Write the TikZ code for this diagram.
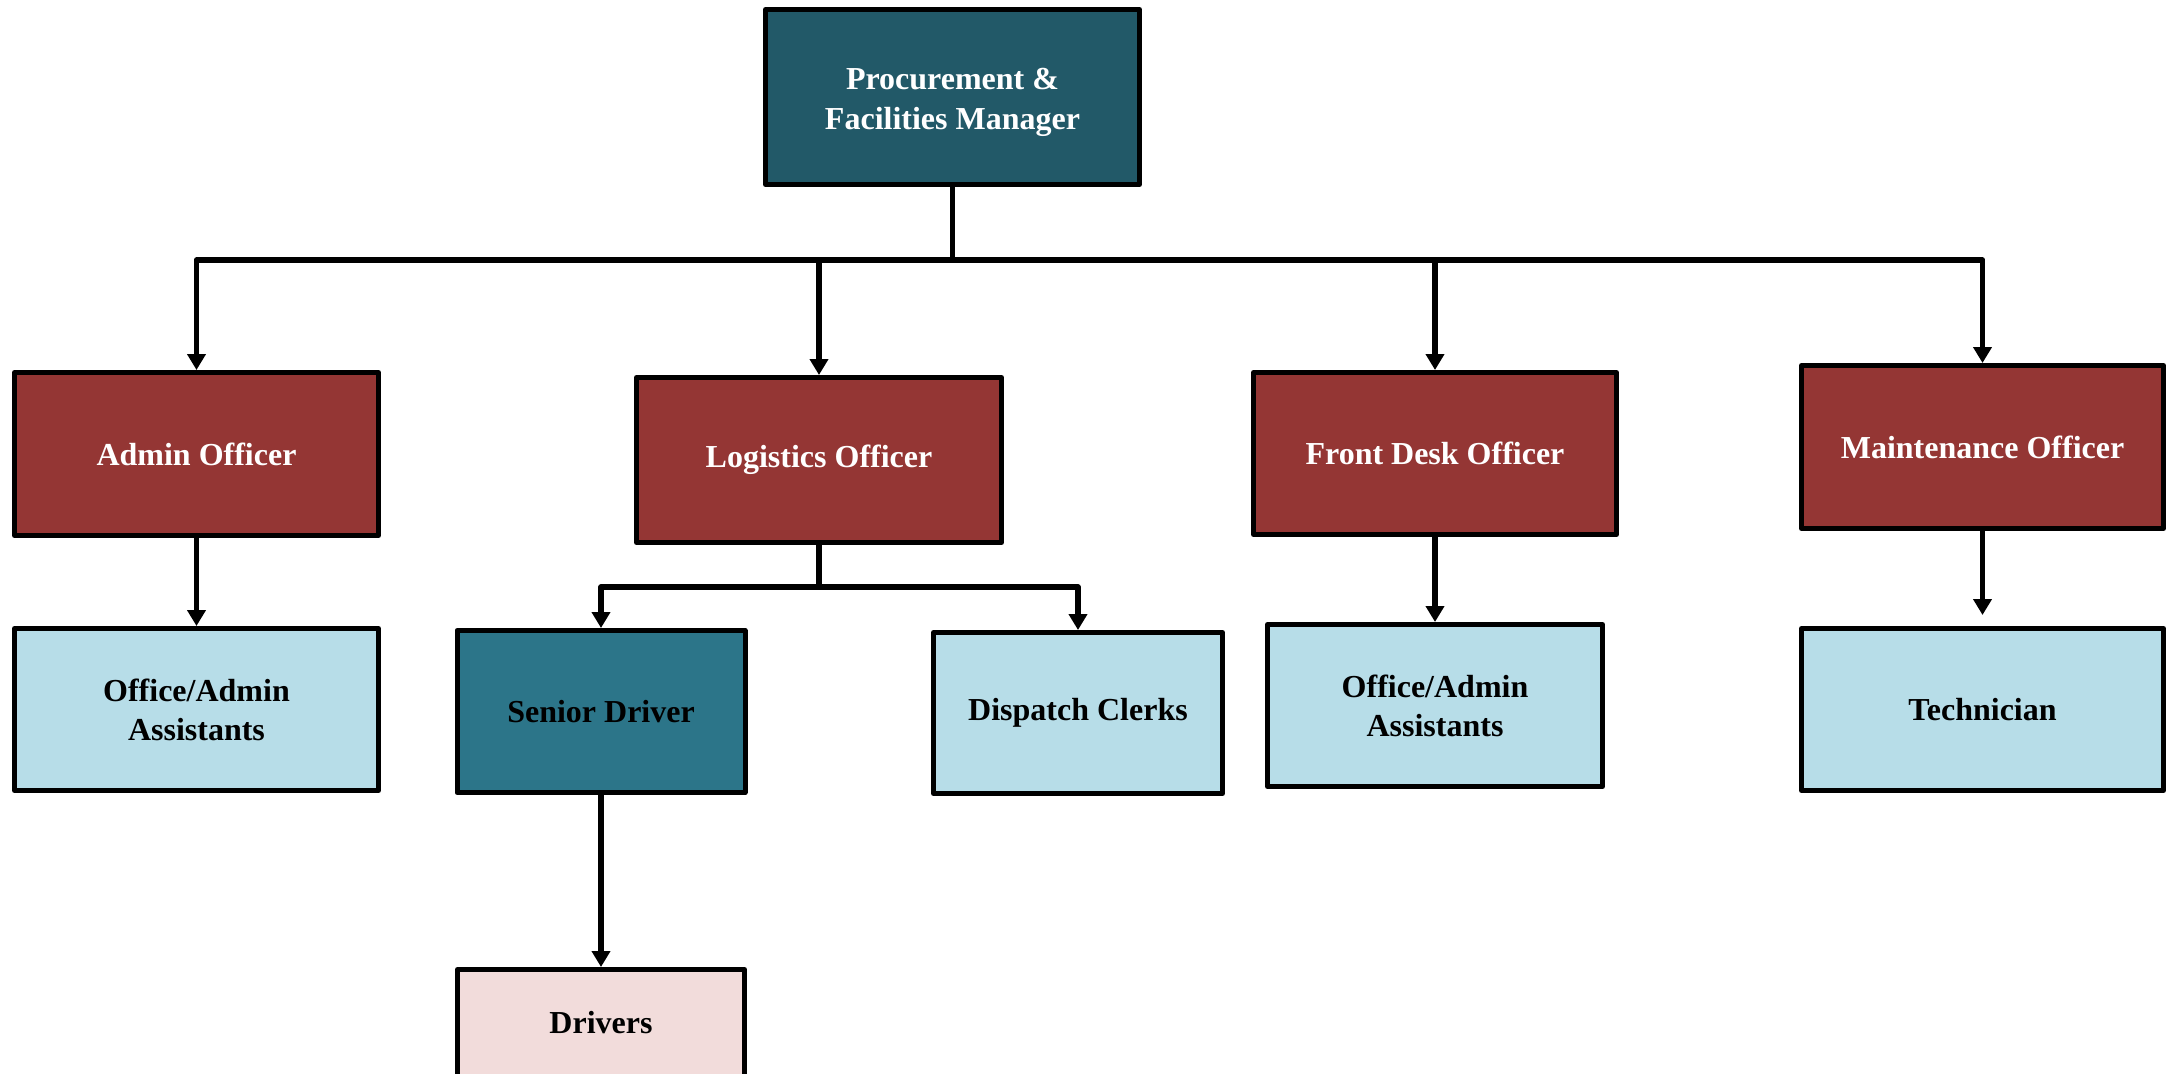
\documentclass[tikz,border=0pt]{standalone}
\usepackage{fontspec}
\setmainfont{Liberation Serif}
\usetikzlibrary{arrows.meta}

\definecolor{mgrteal}{HTML}{225968}
\definecolor{officerred}{HTML}{943634}
\definecolor{staffblue}{HTML}{B7DDE8}
\definecolor{seniorteal}{HTML}{2C7589}
\definecolor{driverpink}{HTML}{F2DCDB}

\tikzset{
  box/.style={draw=black, line width=2.5pt, line join=round, rectangle,
    inner sep=0pt, align=center, font=\fontsize{16}{19.5}\selectfont\bfseries},
  mgrbox/.style={box, fill=mgrteal, text=white},
  officerbox/.style={box, fill=officerred, text=white},
  staffbox/.style={box, fill=staffblue, text=black},
  seniorbox/.style={box, fill=seniorteal, text=black},
  driverbox/.style={box, fill=driverpink, text=black},
  link/.style={draw=black, line width=2.8pt, line join=round,
    -{Triangle[length=8pt,width=9pt]}}
}

\begin{document}
\begin{tikzpicture}[x=0.5pt, y=-0.5pt]
  \useasboundingbox (0,0) rectangle (2167,1073);
  \clip (0,0) rectangle (2167,1073);

  % manager
  \node[mgrbox, minimum width=187pt, minimum height=87.5pt] (mgr) at (952.5,97)
    {\raisebox{-2.5pt}[\height][\depth]{\begin{tabular}{@{}c@{}}Procurement \&\\[0.5pt]Facilities Manager\end{tabular}}};

  % officers
  \node[officerbox, minimum width=182pt, minimum height=81.5pt] (admin) at (196.5,454) {Admin Officer};
  \node[officerbox, minimum width=182.5pt, minimum height=82.5pt] (logi) at (819,460) {Logistics Officer};
  \node[officerbox, minimum width=181.5pt, minimum height=81pt] (front) at (1435,453.5) {Front Desk Officer};
  \node[officerbox, minimum width=181pt, minimum height=81.5pt] (maint) at (1982.5,447) {Maintenance Officer};

  % staff
  \node[staffbox, minimum width=182pt, minimum height=81pt] (asstL) at (196.5,709.5) {Office/Admin\\Assistants};
  \node[seniorbox, minimum width=144pt, minimum height=81pt] (senior) at (601,711.5) {Senior Driver};
  \node[staffbox, minimum width=144.5pt, minimum height=80.5pt] (dispatch) at (1078,713) {Dispatch Clerks};
  \node[staffbox, minimum width=167.5pt, minimum height=81pt] (asstR) at (1435,705.5) {Office/Admin\\Assistants};
  \node[staffbox, minimum width=181pt, minimum height=81pt] (tech) at (1982.5,709.5) {Technician};
  \node[driverbox, minimum width=143.5pt, minimum height=53.5pt] (drivers) at (601,1023) {Drivers};

  % bus levels
  \coordinate (bus) at (0,260);
  \coordinate (subbus) at (0,587);

  % manager to officers
  \draw[link] (mgr.south) -- (mgr.south |- bus) -| (admin.north);
  \draw[link] (mgr.south |- bus) -| (maint.north);
  \draw[link] (logi.north |- bus) -- (logi.north);
  \draw[link] (front.north |- bus) -- (front.north);

  % officers to staff
  \draw[link] (admin.south) -- (asstL.north);
  \draw[link] (logi.south) -- (logi.south |- subbus) -| (senior.north);
  \draw[link] (logi.south |- subbus) -| (dispatch.north);
  \draw[link] (front.south) -- (front.south |- asstR.north);
  \draw[link, shorten >=5.5pt] (maint.south) -- (tech.north);
  \draw[link] (senior.south) -- (senior.south |- drivers.north);
\end{tikzpicture}
\end{document}
